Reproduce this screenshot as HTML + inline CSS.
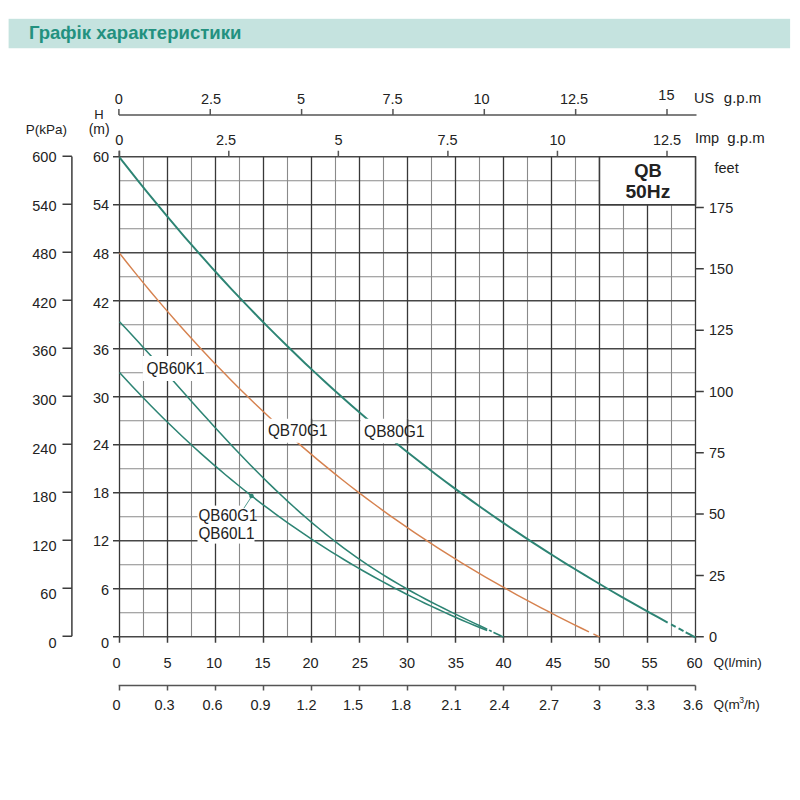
<!DOCTYPE html>
<html><head><meta charset="utf-8"><style>
html,body{margin:0;padding:0;background:#fff;width:800px;height:800px;overflow:hidden}
svg{position:absolute;left:0;top:0}
text{font-family:"Liberation Sans",sans-serif;fill:#222}
</style></head><body>

<svg width="800" height="800" viewBox="0 0 800 800">
<path d="M143.5,156.75V636.75M191.5,156.75V636.75M239.5,156.75V636.75M287.5,156.75V636.75M335.5,156.75V636.75M383.5,156.75V636.75M431.5,156.75V636.75M479.5,156.75V636.75M527.5,156.75V636.75M575.5,156.75V636.75M623.5,156.75V636.75M671.5,156.75V636.75M119.5,612.75H695.5M119.5,564.75H695.5M119.5,516.75H695.5M119.5,468.75H695.5M119.5,420.75H695.5M119.5,372.75H695.5M119.5,324.75H695.5M119.5,276.75H695.5M119.5,228.75H695.5M119.5,180.75H695.5" stroke="#8a8a8a" stroke-width="1.1" fill="none"/>
<path d="M119.5,636.75H695.5M119.5,588.75H695.5M119.5,540.75H695.5M119.5,492.75H695.5M119.5,444.75H695.5M119.5,396.75H695.5M119.5,348.75H695.5M119.5,300.75H695.5M119.5,252.75H695.5M119.5,204.75H695.5M119.5,156.75H695.5" stroke="#474747" stroke-width="1.5" fill="none"/>
<path d="M119.5,156.75V636.75M167.5,156.75V636.75M215.5,156.75V636.75M263.5,156.75V636.75M311.5,156.75V636.75M359.5,156.75V636.75M407.5,156.75V636.75M455.5,156.75V636.75M503.5,156.75V636.75M551.5,156.75V636.75M599.5,156.75V636.75M647.5,156.75V636.75M695.5,156.75V636.75" stroke="#383838" stroke-width="1.3" fill="none"/>
<path d="M119.5,636.75v6M167.5,636.75v6M215.5,636.75v6M263.5,636.75v6M311.5,636.75v6M359.5,636.75v6M407.5,636.75v6M455.5,636.75v6M503.5,636.75v6M551.5,636.75v6M599.5,636.75v6M647.5,636.75v6M695.5,636.75v6" stroke="#3c3c3c" stroke-width="1.5"/>
<path d="M113.0,636.75h6.5M113.0,588.75h6.5M113.0,540.75h6.5M113.0,492.75h6.5M113.0,444.75h6.5M113.0,396.75h6.5M113.0,348.75h6.5M113.0,300.75h6.5M113.0,252.75h6.5M113.0,204.75h6.5M113.0,156.75h6.5" stroke="#3c3c3c" stroke-width="1.5"/>
<path d="M119.5,150.75V156.75" stroke="#3c3c3c" stroke-width="1.5"/>
<path d="M71.9,156.5V636.25M62.5,156.25h9.4M62.5,204.25h9.4M62.5,252.25h9.4M62.5,300.25h9.4M62.5,348.25h9.4M62.5,396.25h9.4M62.5,444.25h9.4M62.5,492.25h9.4M62.5,540.25h9.4M62.5,588.25h9.4M62.5,636.25h9.4" stroke="#3c3c3c" stroke-width="1.5" fill="none"/>
<path d="M695.5,636.75h8.3M695.5,575.43h8.3M695.5,514.11h8.3M695.5,452.78999999999996h8.3M695.5,391.47h8.3M695.5,330.15h8.3M695.5,268.83h8.3M695.5,207.51h8.3" stroke="#3c3c3c" stroke-width="1.5"/>
<path d="M118.9,115H696.5M118.90,115v-6M210.25,115v-6M301.60,115v-6M392.95,115v-6M484.30,115v-6M575.65,115v-6M667.00,115v-6" stroke="#555" stroke-width="1.5" fill="none"/>
<path d="M119.25,156.75v-6M228.80,156.75v-6M338.35,156.75v-6M447.90,156.75v-6M557.45,156.75v-6M667.00,156.75v-6" stroke="#555" stroke-width="1.5" fill="none"/>
<path d="M118.6,685.5H695.5M119.5,685.5v5M167.5,685.5v5M215.5,685.5v5M263.5,685.5v5M311.5,685.5v5M359.5,685.5v5M407.5,685.5v5M455.5,685.5v5M503.5,685.5v5M551.5,685.5v5M599.5,685.5v5M647.5,685.5v5M695.5,685.5v5" stroke="#555" stroke-width="1.5" fill="none"/>
<rect x="599.5" y="156.75" width="96" height="48" fill="#fff" stroke="#3c3c3c" stroke-width="1.5"/>
<path d="M119.50,157.28L128.79,169.16L138.08,180.86L147.37,192.39L156.66,203.74L165.95,214.92L175.25,225.93L184.54,236.77L193.83,247.45L203.12,257.96L212.41,268.31L221.70,278.50L230.99,288.54L240.28,298.42L249.57,308.15L258.86,317.72L268.15,327.15L277.44,336.43L286.74,345.57L296.03,354.57L305.32,363.42L314.61,372.14L323.90,380.73L333.19,389.18L342.48,397.49L351.77,405.68L361.06,413.74L370.35,421.68L379.64,429.49L388.93,437.19L398.23,444.76L407.52,452.22L416.81,459.57L426.10,466.80L435.39,473.92L444.68,480.94L453.97,487.85L463.26,494.65L472.55,501.36L481.84,507.96L491.13,514.47L500.42,520.88L509.72,527.20L519.01,533.43L528.30,539.58L537.59,545.63L546.88,551.60L556.17,557.49L565.46,563.30L574.75,569.03L584.04,574.69L593.33,580.27L602.62,585.78L611.91,591.23L621.21,596.60L630.50,601.91L639.79,607.16L649.08,612.35L658.37,617.47L667.66,622.55" stroke="#2d8474" stroke-width="1.95" fill="none"/>
<path d="M667.66,622.55L670.75,624.22L673.85,625.89L676.94,627.56L680.03,629.22L683.13,630.87L686.22,632.52L689.31,634.16L692.41,635.80L695.50,637.43" stroke="#2d8474" stroke-width="2" fill="none" stroke-dasharray="0 3.9 5.2 3.3 5.6 2.5 12"/>
<path d="M119.50,253.11L127.46,263.19L135.41,273.10L143.37,282.85L151.33,292.44L159.28,301.87L167.24,311.15L175.20,320.27L183.15,329.24L191.11,338.06L199.07,346.73L207.02,355.25L214.98,363.63L222.94,371.87L230.89,379.96L238.85,387.92L246.81,395.74L254.76,403.43L262.72,410.99L270.68,418.41L278.63,425.71L286.59,432.88L294.55,439.93L302.50,446.86L310.46,453.66L318.42,460.35L326.37,466.92L334.33,473.38L342.29,479.72L350.24,485.96L358.20,492.08L366.15,498.10L374.11,504.02L382.07,509.84L390.02,515.55L397.98,521.17L405.94,526.69L413.89,532.12L421.85,537.45L429.81,542.70L437.76,547.86L445.72,552.93L453.68,557.92L461.63,562.82L469.59,567.65L477.55,572.40L485.50,577.07L493.46,581.67L501.42,586.20L509.37,590.66L517.33,595.05L525.29,599.37L533.24,603.64L541.20,607.84L549.16,611.98L557.11,616.06L565.07,620.09L573.03,624.06L580.98,627.98L588.94,631.85" stroke="#d6824f" stroke-width="1.45" fill="none"/>
<path d="M588.94,631.85L591.58,633.13L594.22,634.40L596.86,635.66L599.50,636.92" stroke="#d6824f" stroke-width="1.45" fill="none" stroke-dasharray="0 5 7"/>
<path d="M119.50,321.73L125.73,328.34L131.96,335.04L138.20,341.82L144.43,348.67L150.66,355.57L156.89,362.52L163.12,369.50L169.35,376.50L175.59,383.50L181.82,390.51L188.05,397.51L194.28,404.48L200.51,411.43L206.75,418.33L212.98,425.19L219.21,431.99L225.44,438.74L231.67,445.41L237.91,452.00L244.14,458.51L250.37,464.93L256.60,471.26L262.83,477.49L269.06,483.62L275.30,489.64L281.53,495.55L287.76,501.34L293.99,507.02L300.22,512.57L306.46,518.01L312.69,523.32L318.92,528.51L325.15,533.57L331.38,538.51L337.62,543.32L343.85,548.01L350.08,552.58L356.31,557.02L362.54,561.35L368.77,565.55L375.01,569.64L381.24,573.62L387.47,577.49L393.70,581.26L399.93,584.92L406.17,588.50L412.40,591.98L418.63,595.38L424.86,598.70L431.09,601.95L437.33,605.13L443.56,608.26L449.79,611.34L456.02,614.38L462.25,617.38L468.48,620.37L474.72,623.34L480.95,626.31L487.18,629.28" stroke="#2d8474" stroke-width="1.55" fill="none"/>
<path d="M487.18,629.28L490.44,630.84L493.71,632.41L496.97,633.99L500.24,635.58L503.50,637.18" stroke="#2d8474" stroke-width="1.6" fill="none" stroke-dasharray="0 2 3 2 9"/>
<path d="M119.50,372.49L125.73,379.29L131.96,385.99L138.20,392.59L144.43,399.08L150.66,405.47L156.89,411.77L163.12,417.96L169.35,424.06L175.59,430.06L181.82,435.96L188.05,441.78L194.28,447.49L200.51,453.12L206.75,458.65L212.98,464.10L219.21,469.46L225.44,474.72L231.67,479.90L237.91,485.00L244.14,490.01L250.37,494.94L256.60,499.78L262.83,504.54L269.06,509.22L275.30,513.83L281.53,518.35L287.76,522.80L293.99,527.17L300.22,531.46L306.46,535.68L312.69,539.83L318.92,543.90L325.15,547.91L331.38,551.84L337.62,555.71L343.85,559.51L350.08,563.24L356.31,566.90L362.54,570.50L368.77,574.04L375.01,577.51L381.24,580.93L387.47,584.28L393.70,587.57L399.93,590.81L406.17,593.99L412.40,597.11L418.63,600.17L424.86,603.19L431.09,606.14L437.33,609.05L443.56,611.91L449.79,614.71L456.02,617.47L462.25,620.18L468.48,622.85L474.72,625.46L480.95,628.04L487.18,630.57" stroke="#2d8474" stroke-width="1.55" fill="none"/>
<rect x="142.8" y="356" width="62.7" height="25" fill="#fff"/>
<rect x="264" y="418.75" width="47" height="24" fill="#fff"/>
<rect x="360.6" y="418.75" width="47" height="24.5" fill="#fff"/>
<rect x="197.5" y="505.6" width="57" height="38" fill="#fff"/>
<path d="M311.5,418.75V442.75M407.5,418.75V443.25" stroke="#3c3c3c" stroke-width="1.5"/>
<path d="M251.25,497L243.9,508.2" stroke="#4f9a8d" stroke-width="1"/>
<circle cx="251.5" cy="496" r="2.3" fill="#2d8474"/>
<text x="56.5" y="161.9" text-anchor="end" font-size="14.5" >600</text>
<text x="56.5" y="210.5" text-anchor="end" font-size="14.5" >540</text>
<text x="56.5" y="259.1" text-anchor="end" font-size="14.5" >480</text>
<text x="56.5" y="307.70000000000005" text-anchor="end" font-size="14.5" >420</text>
<text x="56.5" y="356.3" text-anchor="end" font-size="14.5" >360</text>
<text x="56.5" y="404.9" text-anchor="end" font-size="14.5" >300</text>
<text x="56.5" y="453.5" text-anchor="end" font-size="14.5" >240</text>
<text x="56.5" y="502.1" text-anchor="end" font-size="14.5" >180</text>
<text x="56.5" y="550.7" text-anchor="end" font-size="14.5" >120</text>
<text x="56.5" y="599.3000000000001" text-anchor="end" font-size="14.5" >60</text>
<text x="56.5" y="647.9" text-anchor="end" font-size="14.5" >0</text>
<text x="109.2" y="161.9" text-anchor="end" font-size="14.5" >60</text>
<text x="109.2" y="210" text-anchor="end" font-size="14.5" >54</text>
<text x="109.2" y="259.4" text-anchor="end" font-size="14.5" >48</text>
<text x="109.2" y="307.75" text-anchor="end" font-size="14.5" >42</text>
<text x="109.2" y="354.5" text-anchor="end" font-size="14.5" >36</text>
<text x="109.2" y="402.8" text-anchor="end" font-size="14.5" >30</text>
<text x="109.2" y="450.3" text-anchor="end" font-size="14.5" >24</text>
<text x="109.2" y="498.3" text-anchor="end" font-size="14.5" >18</text>
<text x="109.2" y="546.25" text-anchor="end" font-size="14.5" >12</text>
<text x="109.2" y="595" text-anchor="end" font-size="14.5" >6</text>
<text x="109.2" y="648.1" text-anchor="end" font-size="14.5" >0</text>
<text x="46.4" y="133.75" text-anchor="middle" font-size="13.5" >P(kPa)</text>
<text x="99" y="118.75" text-anchor="middle" font-size="13" >H</text>
<text x="99.2" y="134.2" text-anchor="middle" font-size="14" >(m)</text>
<text x="118.9" y="103.6" text-anchor="middle" font-size="14.5" >0</text>
<text x="211" y="103.6" text-anchor="middle" font-size="14.5" >2.5</text>
<text x="301" y="103.6" text-anchor="middle" font-size="14.5" >5</text>
<text x="392.6" y="103.6" text-anchor="middle" font-size="14.5" >7.5</text>
<text x="481.6" y="103.6" text-anchor="middle" font-size="14.5" >10</text>
<text x="574" y="103.6" text-anchor="middle" font-size="14.5" >12.5</text>
<text x="666.4" y="100" text-anchor="middle" font-size="14.5" >15</text>
<text x="694" y="103" text-anchor="start" font-size="14.5" >US</text>
<text x="723.8" y="103" text-anchor="start" font-size="15" >g.p.m</text>
<text x="119.25" y="145" text-anchor="middle" font-size="14.5" >0</text>
<text x="226" y="145" text-anchor="middle" font-size="14.5" >2.5</text>
<text x="338.6" y="145" text-anchor="middle" font-size="14.5" >5</text>
<text x="447.5" y="145" text-anchor="middle" font-size="14.5" >7.5</text>
<text x="557.5" y="145" text-anchor="middle" font-size="14.5" >10</text>
<text x="667" y="145" text-anchor="middle" font-size="14.5" >12.5</text>
<text x="695" y="143" text-anchor="start" font-size="14.5" >Imp</text>
<text x="727.3" y="143" text-anchor="start" font-size="15" >g.p.m</text>
<text x="714.5" y="173.25" text-anchor="start" font-size="14.5" >feet</text>
<text x="709" y="641.95" text-anchor="start" font-size="14.5" >0</text>
<text x="709" y="580.63" text-anchor="start" font-size="14.5" >25</text>
<text x="709" y="519.3100000000001" text-anchor="start" font-size="14.5" >50</text>
<text x="709" y="457.98999999999995" text-anchor="start" font-size="14.5" >75</text>
<text x="709" y="396.67" text-anchor="start" font-size="14.5" >100</text>
<text x="709" y="335.34999999999997" text-anchor="start" font-size="14.5" >125</text>
<text x="709" y="274.03" text-anchor="start" font-size="14.5" >150</text>
<text x="709" y="212.70999999999998" text-anchor="start" font-size="14.5" >175</text>
<text x="116.5" y="667.6" text-anchor="middle" font-size="14.5" >0</text>
<text x="167.5" y="667.6" text-anchor="middle" font-size="14.5" >5</text>
<text x="214.1" y="667.6" text-anchor="middle" font-size="14.5" >10</text>
<text x="262.5" y="667.6" text-anchor="middle" font-size="14.5" >15</text>
<text x="310.6" y="667.6" text-anchor="middle" font-size="14.5" >20</text>
<text x="359.9" y="667.6" text-anchor="middle" font-size="14.5" >25</text>
<text x="407.0" y="667.6" text-anchor="middle" font-size="14.5" >30</text>
<text x="455.9" y="667.6" text-anchor="middle" font-size="14.5" >35</text>
<text x="503.6" y="667.6" text-anchor="middle" font-size="14.5" >40</text>
<text x="553.5" y="667.6" text-anchor="middle" font-size="14.5" >45</text>
<text x="602.1" y="667.6" text-anchor="middle" font-size="14.5" >50</text>
<text x="649.5" y="667.6" text-anchor="middle" font-size="14.5" >55</text>
<text x="694.5" y="667.6" text-anchor="middle" font-size="14.5" >60</text>
<text x="713.4" y="666.5" text-anchor="start" font-size="13.6" >Q(l/min)</text>
<text x="116.5" y="709.6" text-anchor="middle" font-size="14.5" >0</text>
<text x="164.5" y="709.6" text-anchor="middle" font-size="14.5" >0.3</text>
<text x="212.5" y="709.6" text-anchor="middle" font-size="14.5" >0.6</text>
<text x="260.5" y="709.6" text-anchor="middle" font-size="14.5" >0.9</text>
<text x="306.5" y="709.6" text-anchor="middle" font-size="14.5" >1.2</text>
<text x="353.1" y="709.6" text-anchor="middle" font-size="14.5" >1.5</text>
<text x="401.1" y="709.6" text-anchor="middle" font-size="14.5" >1.8</text>
<text x="451.4" y="709.6" text-anchor="middle" font-size="14.5" >2.1</text>
<text x="499.4" y="709.6" text-anchor="middle" font-size="14.5" >2.4</text>
<text x="549.0" y="709.6" text-anchor="middle" font-size="14.5" >2.7</text>
<text x="597.0" y="709.6" text-anchor="middle" font-size="14.5" >3</text>
<text x="645.0" y="709.6" text-anchor="middle" font-size="14.5" >3.3</text>
<text x="693.0" y="709.6" text-anchor="middle" font-size="14.5" >3.6</text>
<text x="713.4" y="708.6" text-anchor="start" font-size="13.6" >Q(m<tspan font-size="8.5" dy="-5.5" dx="-0.6">3</tspan><tspan dy="5.5">/h)</tspan></text>
<text x="647.9" y="176.75" text-anchor="middle" font-size="18" font-weight="bold" textLength="27.5" lengthAdjust="spacingAndGlyphs">QB</text>
<text x="647.9" y="197.75" text-anchor="middle" font-size="18" font-weight="bold" textLength="45" lengthAdjust="spacingAndGlyphs">50Hz</text>
<rect x="8.6" y="18.8" width="781.5" height="29.45" fill="#c5e3df"/>
<text x="28.9" y="39.4" font-size="17.8" font-weight="bold" style="fill:#23917f" textLength="212.5" lengthAdjust="spacingAndGlyphs">Графік характеристики</text>
<text x="146.6" y="373.75" text-anchor="start" font-size="16" textLength="58" lengthAdjust="spacingAndGlyphs">QB60K1</text>
<text x="267.9" y="436.25" text-anchor="start" font-size="16" textLength="59.5" lengthAdjust="spacingAndGlyphs">QB70G1</text>
<text x="364.1" y="436.5" text-anchor="start" font-size="16" textLength="60.5" lengthAdjust="spacingAndGlyphs">QB80G1</text>
<text x="198.5" y="520.6" text-anchor="start" font-size="16" textLength="59" lengthAdjust="spacingAndGlyphs">QB60G1</text>
<text x="198.5" y="538.75" text-anchor="start" font-size="16" textLength="56" lengthAdjust="spacingAndGlyphs">QB60L1</text>
</svg>
</body></html>
